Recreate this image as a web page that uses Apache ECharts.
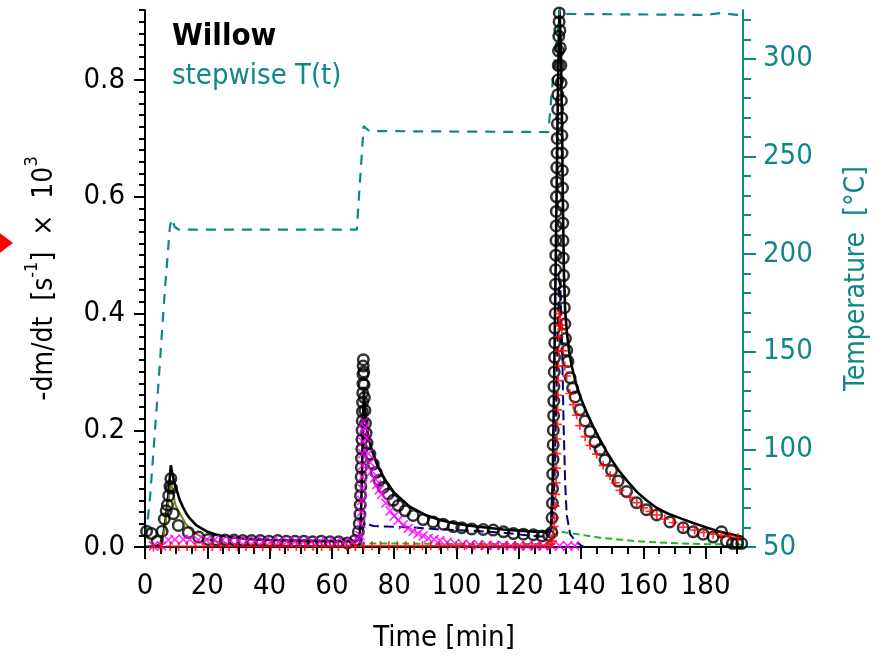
<!DOCTYPE html>
<html><head><meta charset="utf-8">
<script src="https://cdn.jsdelivr.net/npm/echarts@6/dist/echarts.min.js"></script>
<style>html,body{margin:0;padding:0;background:#fff}#c{width:883px;height:658px}</style>
</head><body><div id="c"></div>
<script>
// ---- data (time [min], value) ----
const xLabelTicks = [0,20,40,60,80,100,120,140,160,180];
const xMinorTicks = [0,5,10,15,20,25,30,35,40,45,50,55,60,65,70,75,80,85,90,95,100,105,110,115,120,125,130,135,140,145,150,155,160,165,170,175,180,185,190];
const leftLabelTicks = [0,0.2,0.4,0.6,0.8];
const leftMinorTicks = [0,0.02,0.04,0.06,0.08,0.1,0.12,0.14,0.16,0.18,0.2,0.22,0.24,0.26,0.28,0.3,0.32,0.34,0.36,0.38,0.4,0.42,0.44,0.46,0.48,0.5,0.52,0.54,0.56,0.58,0.6,0.62,0.64,0.66,0.68,0.7,0.72,0.74,0.76,0.78,0.8,0.82,0.84,0.86,0.88,0.9,0.92];
const rightLabelTicks = [50,100,150,200,250,300];
const rightMinorTicks = [50,60,70,80,90,100,110,120,130,140,150,160,170,180,190,200,210,220,230,240,250,260,270,280,290,300,310,320];

const expCircles = [
[0.5,0.027],[2.1,0.023],[3.9,0.010],[5.5,0.027],[6.2,0.048],[6.8,0.062],[7.2,0.072],[7.6,0.088],[8.0,0.104],[8.3,0.117],[8.5,0.101],[9.1,0.057],[10.7,0.037],[13.9,0.025],[17.2,0.017],[20.3,0.013],[23.0,0.012],[25.8,0.012],[28.6,0.012],[31.4,0.011],[34.2,0.011],[37.0,0.011],[39.8,0.010],[42.6,0.011],[45.4,0.010],[48.2,0.010],[51.0,0.010],[53.8,0.009],[56.6,0.010],[59.4,0.009],[62.2,0.009],[65.0,0.007],[67.4,0.011],
[68.5,0.026],[68.8,0.040],[69.0,0.056],[69.1,0.072],[69.2,0.088],[69.3,0.104],[69.4,0.120],[69.45,0.136],[69.5,0.152],[69.6,0.168],[69.65,0.184],[69.7,0.200],[69.75,0.216],[69.8,0.232],[69.85,0.248],[69.9,0.264],[69.95,0.280],[70.0,0.296],[70.05,0.310],[70.1,0.321],
[70.25,0.300],[70.35,0.278],[70.45,0.256],[70.6,0.234],[70.8,0.212],[71.0,0.195],[71.3,0.178],[72.2,0.159],[73.3,0.142],[74.2,0.128],[75.2,0.114],[76.5,0.102],[78.1,0.091],[79.7,0.080],[81.3,0.071],[83.5,0.062],[86.1,0.054],[89.3,0.047],[92.5,0.043],[95.8,0.039],[99.0,0.035],[101.7,0.033],[104.9,0.031],[108.6,0.030],[111.8,0.029],[115.1,0.026],[118.3,0.023],[121.5,0.022],[124.7,0.021],[127.4,0.019],[129.6,0.020],
[130.6,0.025],[130.7,0.05],[130.8,0.075],[130.85,0.10],[130.9,0.125],[131.0,0.15],[131.05,0.175],[131.1,0.20],[131.2,0.225],[131.25,0.25],[131.3,0.275],[131.4,0.30],[131.5,0.325],[131.55,0.35],[131.6,0.375],[131.7,0.40],[131.75,0.425],[131.8,0.45],[131.85,0.475],[131.9,0.50],[131.95,0.525],[132.0,0.55],[132.05,0.575],[132.1,0.60],[132.15,0.625],[132.2,0.65],[132.3,0.675],[132.35,0.70],[132.4,0.725],[132.5,0.75],[132.55,0.775],[132.6,0.80],[132.7,0.825],[132.75,0.85],[132.85,0.875],[132.95,0.90],[133.0,0.915],
[133.2,0.885],[133.35,0.855],[133.5,0.825],[133.6,0.795],[133.7,0.765],[133.8,0.735],[133.85,0.705],[133.9,0.675],[134.0,0.645],[134.05,0.615],[134.1,0.585],[134.15,0.555],[134.2,0.525],[134.3,0.495],[134.4,0.465],[134.5,0.438],[134.65,0.410],[134.8,0.382],[135.0,0.357],[135.4,0.337],[135.8,0.318],[136.5,0.290],[137.3,0.272],[138.1,0.257],[139.6,0.235],[141.3,0.216],[142.9,0.198],[144.5,0.180],[146.1,0.167],[147.7,0.149],[149.8,0.131],[151.9,0.113],[154.6,0.095],[157.8,0.076],[161.0,0.064],[164.3,0.055],[168.5,0.043],[172.8,0.033],[176.0,0.026],[179.2,0.022],[182.4,0.017],[185.1,0.026],[186.7,0.010],[188.6,0.006],[190.2,0.006],[191.6,0.006]
];

const totalFit = [
[0,0.0],[3.5,0.001],[5.0,0.006],[6.0,0.025],[6.8,0.055],[7.5,0.09],[8.0,0.122],[8.3,0.14],[8.7,0.128],[9.3,0.113],[10.2,0.097],[11.2,0.08],[12.3,0.067],[13.3,0.057],[14.4,0.049],[16.5,0.037],[19.7,0.027],[22.8,0.021],[27,0.017],[32.4,0.014],[40,0.012],[50,0.011],[60,0.010],[68,0.010],
[68.8,0.016],[69.3,0.045],[69.7,0.13],[70.0,0.22],[70.3,0.268],[70.6,0.238],[71,0.212],[72,0.182],[73,0.163],[74,0.148],[75,0.136],[77,0.116],[80,0.093],[85,0.069],[90,0.055],[95,0.046],[100,0.040],[105,0.036],[110,0.033],[115,0.030],[120,0.028],[125,0.026],[129.5,0.026],
[130.4,0.035],[130.9,0.11],[131.4,0.3],[131.9,0.5],[132.4,0.71],[132.8,0.86],[133.1,0.92],[133.5,0.86],[133.9,0.72],[134.2,0.58],[134.5,0.47],[134.9,0.405],[135.5,0.365],[136.2,0.335],[137,0.31],[138.5,0.278],[140,0.254],[142,0.228],[144,0.205],[146,0.185],[148,0.165],[150,0.148],[152,0.132],[155,0.112],[158,0.094],[161,0.08],[164,0.068],[168,0.057],[172,0.049],[176,0.041],[180,0.034],[184,0.027],[188,0.022],[192,0.017]
];

const oliveComp = [
[4,0.0],[5.5,0.01],[6.5,0.035],[7.3,0.07],[8.0,0.098],[8.4,0.108],[9.0,0.095],[9.7,0.073],[11.2,0.057],[13.3,0.038],[15.5,0.026],[17.6,0.019],[20.3,0.013],[25,0.007],[30,0.004],[40,0.002],[68,0.001]
];

const navyComp = [
[68.5,0.0],[69.3,0.005],[69.8,0.02],[70.2,0.04],[70.7,0.043],[71.5,0.039],[73.3,0.036],[78,0.035],[84,0.034],[90,0.032],[94.7,0.030],[100,0.029],[105,0.028],[110.8,0.026],[116,0.024],[121,0.021],[126.8,0.018],[129.5,0.019],
[130.5,0.03],[131,0.06],[131.5,0.12],[132,0.24],[132.5,0.37],[133.0,0.46],[133.4,0.44],[133.9,0.35],[134.4,0.21],[134.9,0.11],[135.4,0.055],[136.5,0.022],[138.3,0.009],[140,0.003],[141,0.0]
];

const greenComp = [
[69,0.0],[70,0.006],[80,0.006],[100,0.005],[128,0.005],[130.5,0.01],[131.5,0.02],[133,0.027],[135,0.025],[140,0.021],[146,0.016],[152,0.013],[158,0.010],[164,0.008],[172,0.006],[180,0.005],[192,0.004]
];

const magentaComp = [
[2.7,0.002],[5.3,0.002],[7.5,0.012],[9.6,0.013],[12.3,0.013],[14.4,0.013],[17.1,0.012],[19.7,0.012],[22.3,0.012],[24.9,0.012],[27.5,0.011],[30.1,0.011],[32.7,0.011],[35.3,0.011],[37.9,0.010],[40.5,0.010],[43.1,0.010],[45.7,0.010],[48.3,0.010],[50.9,0.009],[53.5,0.009],[56.1,0.009],[58.7,0.009],[61.3,0.008],[63.9,0.008],[66.5,0.008],
[68.5,0.012],[69.0,0.02],[69.3,0.04],[69.5,0.06],[69.6,0.08],[69.7,0.10],[69.8,0.12],[69.85,0.14],[69.9,0.16],[70.0,0.18],[70.1,0.20],[70.3,0.215],[70.6,0.205],[71.2,0.187],[71.7,0.16],[72.3,0.145],[72.8,0.13],[73.6,0.118],[74.4,0.107],[75.2,0.098],[76.0,0.09],[77.3,0.075],[78.7,0.062],[80.0,0.053],[81.3,0.046],[82.9,0.038],[84.5,0.032],[86.1,0.027],[87.7,0.023],[89.3,0.019],[91.0,0.015],[92.8,0.013],[94.7,0.011],[97.0,0.008],[99.5,0.006],[102.0,0.005],[104.5,0.004],[107.1,0.004],[109.7,0.003],[112.3,0.003],[114.9,0.003],[117.5,0.002],[120.1,0.002],[122.7,0.002],[125.3,0.002],[127.9,0.002],[130.5,0.002],[133.1,0.002],[135.7,0.002],[138.0,0.002]
];

const redComp = [
[2.7,0.0],[5.4,0.0],[8.1,0.001],[10.8,0.001],[13.5,0.001],[16.2,0.001],[18.9,0.001],[21.6,0.001],[24.3,0.001],[27.0,0.001],[29.7,0.001],[32.4,0.001],[35.1,0.001],[37.8,0.001],[40.5,0.001],[43.2,0.001],[45.9,0.001],[48.6,0.001],[51.3,0.001],[54.0,0.001],[56.7,0.001],[59.4,0.001],[62.1,0.001],[64.8,0.001],[67.5,0.001],[70.2,0.002],[72.9,0.002],[75.6,0.002],[78.3,0.002],[81.0,0.002],[83.7,0.002],[86.4,0.002],[89.1,0.002],[91.8,0.002],[94.5,0.002],[97.2,0.002],[99.9,0.002],[102.6,0.002],[105.3,0.002],[108.0,0.002],[110.7,0.002],[113.4,0.002],[116.1,0.002],[118.8,0.002],[121.5,0.002],[124.2,0.002],[126.9,0.002],[129.3,0.003],
[130.3,0.005],[130.8,0.01],[131.1,0.02],[131.3,0.035],[131.5,0.05],[131.7,0.07],[131.85,0.09],[132.0,0.11],[132.1,0.135],[132.2,0.16],[132.3,0.185],[132.4,0.21],[132.5,0.235],[132.6,0.26],[132.7,0.285],[132.75,0.31],[132.8,0.335],[132.9,0.36],[132.95,0.38],[133.0,0.40],[133.3,0.39],[133.6,0.38],[133.8,0.373],[134.3,0.336],[134.8,0.31],[135.4,0.293],[136.4,0.263],[137.5,0.244],[138.6,0.226],[139.6,0.208],[141.3,0.189],[142.9,0.174],[145.0,0.159],[147.1,0.14],[149.3,0.122],[151.0,0.11],[152.5,0.097],[155.7,0.085],[157.9,0.076],[160.0,0.067],[162.2,0.061],[164.3,0.055],[166.9,0.048],[169.6,0.042],[172.8,0.034],[176.5,0.029],[179.4,0.025],[182.4,0.022],[185.0,0.02],[187.7,0.019],[190.4,0.016]
];

const temperature = [
[0.3,55],[1.6,75],[4.2,131],[6.4,182],[8.0,214],[8.6,218],[9.5,214],[10.8,212.5],[68.0,212.5],[70.2,265.5],[70.8,266],[72.0,263],[129.5,262.5],[131.0,290],[133.2,326],[134.0,323],[180,322.5],[185,323.5],[190,322.5],[192,323]
];

const FONT = '"DejaVu Sans Condensed", "DejaVu Sans", sans-serif';
const TEAL = '#108686';

const chart = echarts.init(document.getElementById('c'), null, {renderer:'canvas'});
const xPath = 'path://M0,0L10,10M10,0L0,10';
const plusPath = 'path://M5,0L5,10M0,5L10,5';

chart.setOption({
  animation:false,
  backgroundColor:'#fff',
  grid:{left:145,right:140,top:10,bottom:108},
  xAxis:[
    {type:'value',min:0,max:192,position:'bottom',
     axisLine:{show:true,onZero:false,lineStyle:{color:'#000',width:2}},
     axisTick:{show:true,customValues:xLabelTicks,length:12,lineStyle:{color:'#000',width:2}},
     axisLabel:{customValues:xLabelTicks,fontFamily:FONT,fontSize:29,color:'#000',margin:25},
     splitLine:{show:false},
     name:'Time [min]',nameLocation:'middle',nameGap:77,
     nameTextStyle:{fontFamily:FONT,fontSize:29,color:'#000'}},
    {type:'value',min:0,max:192,position:'bottom',
     axisLine:{show:false,onZero:false},
     axisTick:{show:true,customValues:xMinorTicks,length:7,lineStyle:{color:'#000',width:2}},
     axisLabel:{show:false},splitLine:{show:false}}
  ],
  yAxis:[
    {type:'value',min:0,max:0.92,position:'left',
     axisLine:{show:true,onZero:false,lineStyle:{color:'#000',width:2}},
     axisTick:{show:true,customValues:leftLabelTicks,length:11,lineStyle:{color:'#000',width:2}},
     axisLabel:{customValues:leftLabelTicks,formatter:v=>v.toFixed(1),fontFamily:FONT,fontSize:29,color:'#000',margin:20},
     splitLine:{show:false},
     name:'-dm/dt  [s{sup|-1}]  ×  10{sup|3}',nameLocation:'middle',nameRotate:90,nameGap:78,
     nameTextStyle:{fontFamily:FONT,fontSize:28,color:'#000',lineHeight:44,
       rich:{sup:{fontFamily:FONT,fontSize:18,color:'#000',verticalAlign:'top',lineHeight:20}}}},
    {type:'value',min:0,max:0.92,position:'left',
     axisLine:{show:false,onZero:false},
     axisTick:{show:true,customValues:leftMinorTicks,length:6,lineStyle:{color:'#000',width:2}},
     axisLabel:{show:false},splitLine:{show:false}},
    {type:'value',min:50,max:325,position:'right',
     axisLine:{show:true,onZero:false,lineStyle:{color:TEAL,width:2}},
     axisTick:{show:true,customValues:rightLabelTicks,length:13,lineStyle:{color:TEAL,width:2}},
     axisLabel:{customValues:rightLabelTicks,fontFamily:FONT,fontSize:29,color:TEAL,margin:20},
     splitLine:{show:false},
     name:'Temperature  [°C]',nameLocation:'middle',nameRotate:90,nameGap:100,
     nameTextStyle:{fontFamily:FONT,fontSize:28,color:TEAL}},
    {type:'value',min:50,max:325,position:'right',
     axisLine:{show:false,onZero:false},
     axisTick:{show:true,customValues:rightMinorTicks,length:8,lineStyle:{color:TEAL,width:2}},
     axisLabel:{show:false},splitLine:{show:false}}
  ],
  graphic:[
    {type:'text',left:172,top:21,style:{text:'Willow',fontFamily:FONT,fontSize:31,fontWeight:'bold',fill:'#000'}},
    {type:'text',left:172,top:62,style:{text:'stepwise T(t)',fontFamily:FONT,fontSize:29,fill:TEAL}},
    {type:'polygon',shape:{points:[[-7,228],[13,243],[-7,258]]},style:{fill:'#ff0000'}}
  ],
  series:[
    {name:'fit',type:'line',data:totalFit,xAxisIndex:0,yAxisIndex:0,showSymbol:false,symbol:'none',
     lineStyle:{color:'#000',width:2.6},z:2},
    {name:'olive',type:'line',data:oliveComp,xAxisIndex:0,yAxisIndex:0,showSymbol:false,symbol:'none',
     lineStyle:{color:'#80801a',width:2},z:2},
    {name:'navy',type:'line',data:navyComp,xAxisIndex:0,yAxisIndex:0,showSymbol:false,symbol:'none',
     lineStyle:{color:'#000080',width:2,type:[10,5]},z:2},
    {name:'green',type:'line',data:greenComp,xAxisIndex:0,yAxisIndex:0,showSymbol:false,symbol:'none',
     lineStyle:{color:'#1cb81c',width:2,type:[7,4]},z:2},
    {name:'exp',type:'scatter',data:expCircles,xAxisIndex:0,yAxisIndex:0,symbol:'circle',symbolSize:10.5,
     itemStyle:{color:'rgba(0,0,0,0)',borderColor:'#000',borderWidth:2.5},z:3},
    {name:'magenta',type:'scatter',data:magentaComp,xAxisIndex:0,yAxisIndex:0,symbol:xPath,symbolSize:9,
     itemStyle:{color:'rgba(0,0,0,0)',borderColor:'#ff00ff',borderWidth:1.7},z:4},
    {name:'red',type:'scatter',data:redComp,xAxisIndex:0,yAxisIndex:0,symbol:plusPath,symbolSize:9,
     itemStyle:{color:'rgba(0,0,0,0)',borderColor:'#ff0000',borderWidth:1.7},z:5},
    {name:'T',type:'line',data:temperature,xAxisIndex:0,yAxisIndex:2,showSymbol:false,symbol:'none',
     lineStyle:{color:TEAL,width:2.2,type:[10,8]},z:2}
  ]
});
</script></body></html>
